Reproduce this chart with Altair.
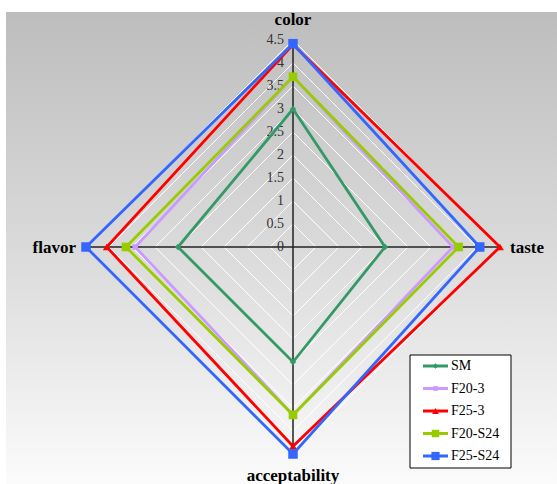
import altair as alt
import pandas as pd

# Sensory attributes, clockwise from the top
attributes = ["color", "taste", "acceptability", "flavor"]

# Series names and their scores per attribute (same order as attributes)
series = ["SM", "F20-3", "F25-3", "F20-S24", "F25-S24"]
sm = [3.0, 2.0, 2.5, 2.5]
f20_3 = [3.7, 3.48, 3.65, 3.43]
f25_3 = [4.4, 4.5, 4.33, 4.05]
f20_s24 = [3.7, 3.6, 3.65, 3.63]
f25_s24 = [4.42, 4.06, 4.5, 4.5]
scores = [sm, f20_3, f25_3, f20_s24, f25_s24]

colors = ["#339966", "#cc99ff", "#ff0000", "#99cc00", "#3366ff"]
shapes = ["diamond", "square", "triangle-up", "square", "square"]
sizes = [40, 30, 60, 75, 90]

# Radial axis ticks
ticks = [0, 0.5, 1, 1.5, 2, 2.5, 3, 3.5, 4, 4.5]
tick_labels = ["0", "0.5", "1", "1.5", "2", "2.5", "3", "3.5", "4", "4.5"]
r_max = 4.5

SERIF = "Liberation Serif, Times New Roman, serif"

# Long table: one row per series/attribute, with the first attribute repeated to close the loop
rows = []
for name, vals in zip(series, scores):
    for k in range(len(attributes) + 1):
        i = k % len(attributes)
        rows.append({"series": name, "attribute": attributes[i], "k": k, "value": vals[i]})
polar = pd.DataFrame(rows)

grid = pd.DataFrame(
    [{"level": t, "k": k, "value": t} for t in ticks[1:] for k in range(len(attributes) + 1)]
)
spokes = pd.DataFrame({"attribute": attributes, "k": list(range(len(attributes))), "value": r_max})
tick_df = pd.DataFrame({"tick": ticks, "label": tick_labels})
legend_df = pd.DataFrame({"series": series, "row": list(range(len(series)))})
one = pd.DataFrame({"a": [0]})

n = len(attributes)


def polar_xy(chart):
    return chart.transform_calculate(
        theta=f"datum.k * 2 * PI / {n}"
    ).transform_calculate(
        px="datum.value * sin(datum.theta)",
        py="datum.value * cos(datum.theta)",
    )


xs = alt.Scale(domain=[-r_max, r_max])
ys = alt.Scale(domain=[-r_max, r_max])
X = alt.X("px:Q", scale=xs, axis=None)
Y = alt.Y("py:Q", scale=ys, axis=None)

color_enc = alt.Color("series:N", scale=alt.Scale(domain=series, range=colors), legend=None)

# Gradient backdrop of the chart area
backdrop = alt.Chart(one).mark_rect(
    color=alt.Gradient(
        gradient="linear",
        stops=[
            alt.GradientStop(color="#bdbdbd", offset=0),
            alt.GradientStop(color="#dadada", offset=0.5),
            alt.GradientStop(color="#fbfbfb", offset=1),
        ],
        x1=0, x2=0, y1=0, y2=1,
    )
).encode(x=alt.value(-80), x2=alt.value(471), y=alt.value(-28), y2=alt.value(444))

# White concentric grid diamonds
rings = polar_xy(alt.Chart(grid)).mark_line(color="white", strokeWidth=1).encode(
    x=X, y=Y, detail="level:N", order="k:Q"
)

# Dark spokes through the centre
spoke_lines = polar_xy(alt.Chart(spokes)).transform_calculate(
    nx="-datum.px", ny="-datum.py"
).mark_rule(color="#222222", strokeWidth=1).encode(
    x=X, y=Y, x2="nx:Q", y2="ny:Q"
)

# Tick labels along the vertical spoke
tick_text = alt.Chart(tick_df).transform_calculate(px="0", py="datum.tick").mark_text(
    font=SERIF, fontSize=14, color="#333333", align="right", baseline="middle", dx=-9
).encode(x=X, y=Y, text="label:N")

# Attribute labels at the tips
title_specs = {
    "color": dict(align="center", dx=0, dy=-20),
    "taste": dict(align="left", dx=10, dy=1),
    "acceptability": dict(align="center", dx=0, dy=22),
    "flavor": dict(align="right", dx=-10, dy=1),
}
titles = []
for a in attributes:
    spec = title_specs[a]
    titles.append(
        polar_xy(alt.Chart(spokes))
        .transform_filter(alt.datum.attribute == a)
        .mark_text(font=SERIF, fontSize=17, fontWeight="bold", color="black",
                   baseline="middle", **spec)
        .encode(x=X, y=Y, text="attribute:N")
    )

# One line + markers per series, drawn in series order
series_layers = []
for name, shape, size in zip(series, shapes, sizes):
    base = polar_xy(alt.Chart(polar)).transform_filter(alt.datum.series == name)
    series_layers.append(
        base.mark_line(strokeWidth=2.8).encode(x=X, y=Y, order="k:Q", color=color_enc)
    )
    series_layers.append(
        base.transform_filter("datum.k < 4")
        .mark_point(filled=True, opacity=1, shape=shape, size=size)
        .encode(x=X, y=Y, color=color_enc)
    )

# Legend box with line+marker samples
LY = alt.Y("row:Q", scale=alt.Scale(domain=[0, 4], range=[326, 416]), axis=None)
legend_box = alt.Chart(one).mark_rect(fill="white", stroke="black", strokeWidth=1).encode(
    x=alt.value(324), x2=alt.value(425), y=alt.value(315), y2=alt.value(428)
)
legend_lines = alt.Chart(legend_df).mark_rule(strokeWidth=3).encode(
    x=alt.value(337), x2=alt.value(362), y=LY, color=color_enc
)
legend_marks = []
for name, shape, size in zip(series, shapes, sizes):
    legend_marks.append(
        alt.Chart(legend_df)
        .transform_filter(alt.datum.series == name)
        .mark_point(filled=True, opacity=1, shape=shape, size=size * 0.75)
        .encode(x=alt.value(349.5), y=LY, color=color_enc)
    )
legend_text = alt.Chart(legend_df).mark_text(
    font=SERIF, fontSize=14, color="black", align="left", baseline="middle"
).encode(x=alt.value(365), y=LY, text="series:N")

chart = alt.layer(
    backdrop, rings, spoke_lines, tick_text, *titles, *series_layers,
    legend_box, legend_lines, *legend_marks, legend_text,
).resolve_scale(
    y="independent"
).properties(
    width=414, height=414,
    autosize=alt.AutoSizeParams(type="none"),
    padding={"left": 86, "top": 40, "right": 57, "bottom": 30},
).configure_view(stroke=None)

chart.save("out.html", embed_options={"renderer": "svg", "actions": False})
